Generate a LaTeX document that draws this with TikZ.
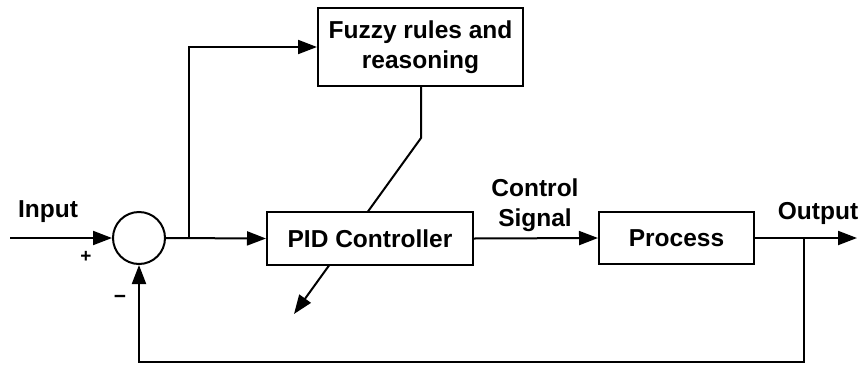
\documentclass[tikz,border=0pt]{standalone}
\usepackage{fontspec}
\setmainfont{Liberation Sans}
\usetikzlibrary{arrows.meta,backgrounds}
\begin{document}
\begin{tikzpicture}[x=1pt,y=-1pt,
  line width=2pt,
  arr/.style={line width=2pt,-{Triangle[length=19pt,width=14pt]}},
  blk/.style={draw,fill=white,inner sep=0pt,align=center,font=\fontsize{24.5}{30}\selectfont\bfseries},
  lbl/.style={inner sep=0pt,align=center,font=\fontsize{24.5}{30}\selectfont\bfseries}]
\useasboundingbox (0,0) rectangle (861,367);
\node[draw,circle,minimum size=52pt,inner sep=0pt] (sum) at (139,238) {};
\node[blk,minimum width=205pt,minimum height=78pt] (fuzzy) at (420.5,47) {Fuzzy rules and\\reasoning};
\node[blk,minimum width=206pt,minimum height=53pt] (pid) at (370,238.5) {PID Controller};
\node[blk,minimum width=155pt,minimum height=52pt] (proc) at (676.5,238) {Process};
\coordinate (in) at (10,238);
\coordinate (out) at (857,238);
\coordinate (br) at (189,238);
\coordinate (split) at (804,238);
\coordinate (fbcorner) at (804,362);
\coordinate (bend) at (421,138);
\coordinate (tip) at (294,314);
\node[lbl] (inlbl) at (48,212) {Input};
\node[lbl] (outlbl) at (818,213) {Output};
\node[lbl] (cslbl) at (535,205) {Control\\Signal};
\node[lbl,font=\fontsize{19}{20}\selectfont\bfseries] (plus) at (86,257) {+};
\node[lbl,font=\fontsize{21}{20}\selectfont\bfseries] (minus) at (120,299) {−};
\draw[arr] (in) -- (sum.west);
\draw[arr] (sum.east) -- (pid.west);
\draw[arr] (br) |- (fuzzy.west);
\draw[arr] (pid.east) -- (proc.west);
\draw[arr] (proc.east) -- (out);
\draw[arr] (split) -- (fbcorner) -| (sum.south);
\begin{scope}[on background layer]
\draw[arr] (fuzzy.south -| bend) -- (bend) -- (tip);
\end{scope}
\end{tikzpicture}
\end{document}
